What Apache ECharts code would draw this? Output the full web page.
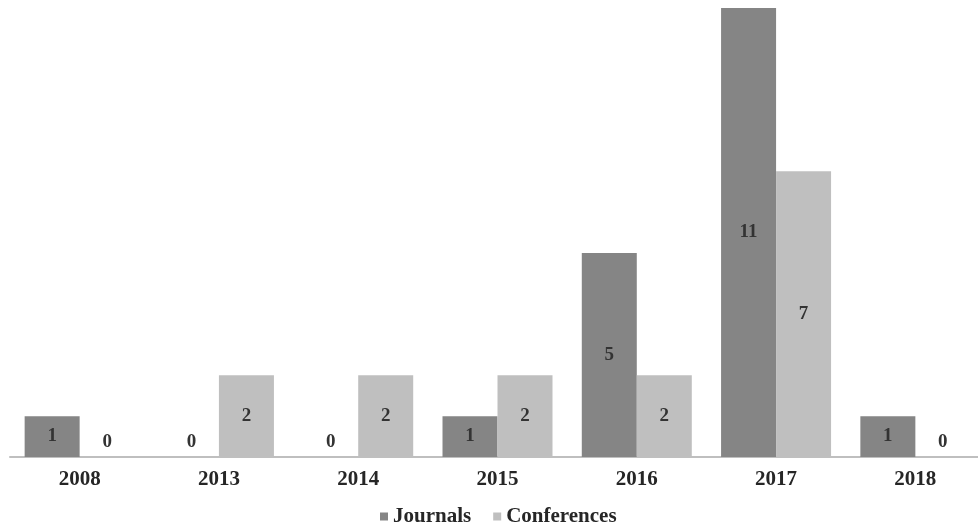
<!DOCTYPE html>
<html>
<head>
<meta charset="utf-8">
<script src="https://cdn.jsdelivr.net/npm/echarts@6/dist/echarts.min.js"></script>
<style>
html,body{margin:0;padding:0;background:#fff;overflow:hidden;}
#chart{width:985px;height:528px;}
</style>
</head>
<body>
<div id="chart"></div>
<script>
const categories = ['2008', '2013', '2014', '2015', '2016', '2017', '2018'];
const journals = [1, 0, 0, 1, 5, 11, 1];
const conferences = [0, 2, 2, 2, 2, 7, 0];

const fontFam = '"Liberation Serif", "Times New Roman", serif';

function toItems(arr) {
  return arr.map(v => v === 0
    ? { value: v, label: { position: 'top', distance: 5 } }
    : v);
}

const chart = echarts.init(document.getElementById('chart'), null, { renderer: 'canvas' });
chart.setOption({
  animation: false,
  backgroundColor: '#ffffff',
  grid: { left: 10, top: 8, bottom: 71, right: 0, containLabel: false },
  legend: {
    top: 501,
    left: 375,
    itemWidth: 8,
    itemHeight: 8,
    itemGap: 22,
    icon: 'rect',
    textStyle: { fontFamily: fontFam, fontWeight: 'bold', fontSize: 21, color: '#262626' },
    data: ['Journals', 'Conferences']
  },
  xAxis: {
    type: 'category',
    data: categories,
    axisLine: { lineStyle: { color: '#bfbfbf', width: 2 } },
    axisTick: { show: false },
    axisLabel: { fontFamily: fontFam, fontWeight: 'bold', fontSize: 21, color: '#262626', margin: 12 }
  },
  yAxis: {
    type: 'value',
    min: 0,
    max: 11,
    show: false,
    splitLine: { show: false }
  },
  series: [
    {
      name: 'Journals',
      type: 'bar',
      data: toItems(journals),
      barWidth: 55,
      barGap: '0%',
      itemStyle: { color: '#858585' },
      label: { show: true, position: 'inside', fontFamily: fontFam, fontWeight: 'bold', fontSize: 19, color: '#333333' }
    },
    {
      name: 'Conferences',
      type: 'bar',
      data: toItems(conferences),
      barWidth: 55,
      barGap: '0%',
      itemStyle: { color: '#bfbfbf' },
      label: { show: true, position: 'inside', fontFamily: fontFam, fontWeight: 'bold', fontSize: 19, color: '#333333' }
    }
  ]
});
</script>
</body>
</html>
